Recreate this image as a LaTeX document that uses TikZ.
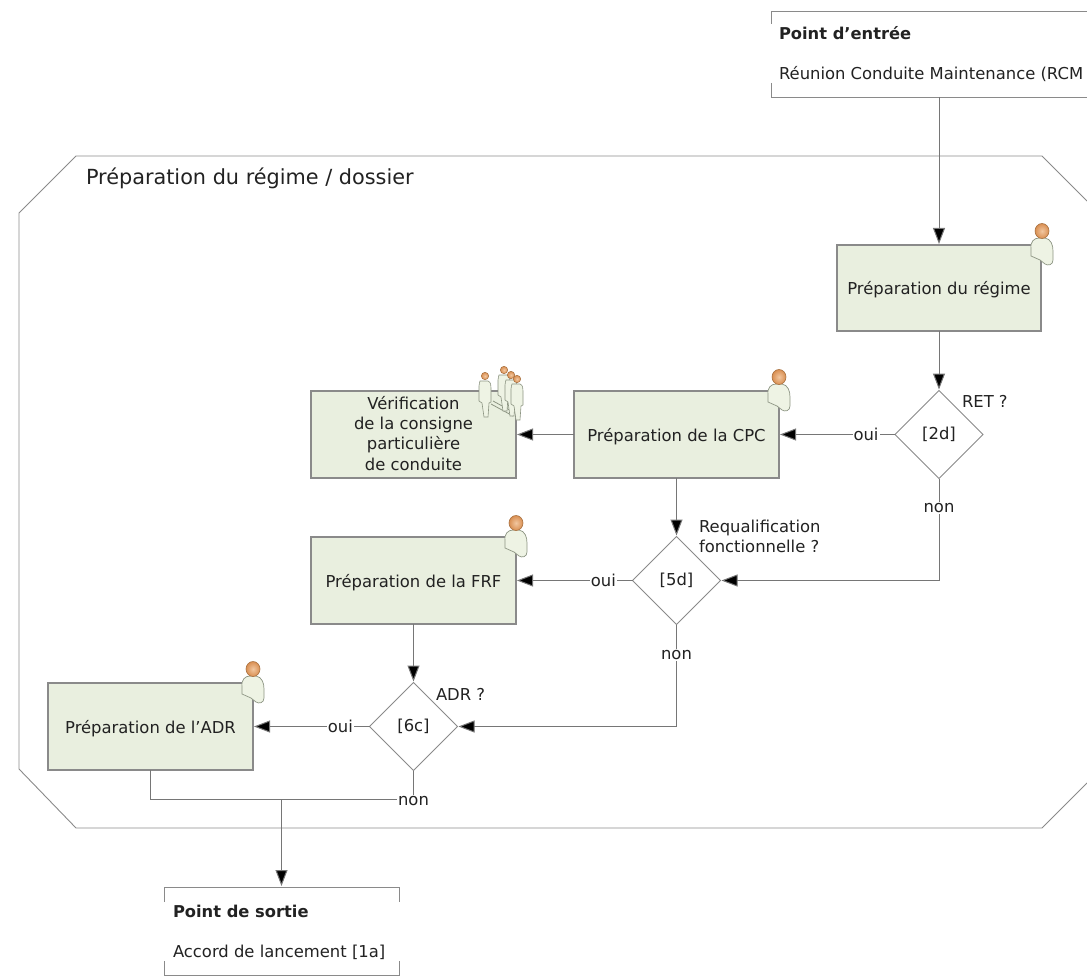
\documentclass[tikz,border=0pt]{standalone}
\usepackage{fontspec}
\setmainfont{DejaVu Sans}
\usetikzlibrary{arrows.meta,shapes.geometric,positioning}
\definecolor{boxfill}{HTML}{E9EFDF}
\definecolor{boxline}{HTML}{8A8A8A}
\definecolor{conn}{HTML}{767676}
\definecolor{ink}{HTML}{222222}
\definecolor{headin}{HTML}{F2C7A0}
\definecolor{headfill}{HTML}{D98F52}
\definecolor{headline}{HTML}{A8703F}
\definecolor{bodyfill}{HTML}{EEF3E4}
\definecolor{bodyline}{HTML}{8C9482}
\tikzset{
  x=1pt,y=-1pt,
  every node/.style={font=\fontsize{16.4}{20}\selectfont,text=ink,inner sep=0pt,outer sep=0pt},
  taskbox/.style={draw=boxline,fill=boxfill,line width=1.1pt,minimum width=205,minimum height=87,align=center,text height=13pt,text depth=0pt},
  decision/.style={diamond,draw=boxline,fill=white,line width=0.9pt,minimum width=88,minimum height=88,aspect=1,yshift=0pt},
  flow/.style={draw=conn,line width=1pt,-{Triangle[length=16,width=12,fill=black]},shorten >=1},
  plainflow/.style={draw=conn,line width=1pt},
  onlabel/.style={fill=white,inner xsep=1pt,inner ysep=1pt},
  frameline/.style={draw=boxline,line width=0.9pt},
  person/.pic={
    \draw[draw=bodyline,fill=bodyfill,line width=.7pt]
      (-11,18) .. controls (-12,11) and (-8,7) .. (-3,7)
      -- (3,7) .. controls (9,8) and (11,14) .. (11,20)
      -- (11,29) .. controls (11,34) and (6,35) .. (3,33)
      -- (-2,29) -- (-11,25) -- cycle;
    \draw[draw=headline,inner color=headin,outer color=headfill,line width=.6pt] (0,0) circle[x radius=7,y radius=7.5];
  },
  smallperson/.pic={
    \draw[draw=bodyline,fill=bodyfill,line width=.6pt]
      (-5,5) -- (3,5) .. controls (6,6) and (6,10) .. (6,12)
      -- (6,26) -- (4,27) -- (3,41) -- (-1,41) -- (-3,27) -- (-6,25) -- (-6,10)
      .. controls (-6,7) and (-5,6) .. (-5,5) -- cycle;
    \draw[draw=headline,inner color=headin,outer color=headfill,line width=.5pt] (0,0) circle[radius=3.7];
  },
}
\begin{document}
\begin{tikzpicture}
\useasboundingbox (0,0) rectangle (1087,976);
% frame
\draw[frameline] (1087,201) -- (1042,156) -- (76,156) -- (19,213) -- (19,769) -- (76,828) -- (1042,828) -- (1087,783);
\node[anchor=west,font=\fontsize{20.8}{24}\selectfont] (frametitle) at (86,178.5) {Préparation du régime / dossier};
% entry
\draw[frameline] (771,24) -- (771,11) -- (1087,11);
\draw[frameline] (771,83) -- (771,97) -- (1087,97);
\coordinate (entrybottom) at (939,97);
\node[anchor=west,font=\fontsize{16.3}{20}\selectfont\bfseries] (entrytitle) at (779,33.5) {Point d’entrée};
\node[anchor=west] (entrytext) at (779,74.5) {Réunion Conduite Maintenance (RCM};
% exit
\draw[frameline] (164,902) -- (164,887) -- (399,887) -- (399,902);
\draw[frameline] (164,961) -- (164,975) -- (399,975) -- (399,961);
\coordinate (exittop) at (281.5,887);
\node[anchor=west,font=\fontsize{16.3}{20}\selectfont\bfseries] (exittitle) at (173,911.5) {Point de sortie};
\node[anchor=west] (exittext) at (173,952.5) {Accord de lancement [1a]};
% tasks
\node[taskbox,minimum width=204,minimum height=86] (regime) at (939,288) {Préparation du régime};
\node[taskbox] (cpc) at (676.5,434.5) {Préparation de la CPC};
\node[taskbox] (verif) at (413.5,434.5) {};
\node[align=center,font=\fontsize{16.4}{20.1}\selectfont] (veriftext) at (413.5,433.5) {Vérification\\de la consigne\\particulière\\de conduite};
\node[taskbox] (frf) at (413.5,580.5) {Préparation de la FRF};
\node[taskbox] (adr) at (150.5,726.5) {Préparation de l’ADR};
% decisions
\node[decision] (d2) at (939,434.5) {[2d]};
\node[decision] (d5) at (676.5,580.5) {[5d]};
\node[decision] (d6) at (413.5,726.5) {[6c]};
% connector waypoints
\coordinate (elbowA) at (939,580.5);
\coordinate (elbowB) at (676.5,726.5);
\coordinate (elbowC) at (413.5,799);
\coordinate (elbowD) at (150.5,799);
\coordinate (junction) at (281.5,799);
% connectors
\draw[flow] (entrybottom) -- (regime.north);
\draw[flow] (regime.south) -- (d2.north);
\draw[flow] (d2.west) -- node[onlabel,pos=.25] (oui1) {oui} (cpc.east);
\draw[flow] (cpc.west) -- (verif.east);
\draw[flow] (cpc.south) -- (d5.north);
\draw[flow] (d2.south) -- (elbowA) -- (d5.east);
\node[onlabel] (non1) at (939,508) {non};
\draw[flow] (d5.west) -- node[onlabel,pos=.25] (oui2) {oui} (frf.east);
\draw[flow] (frf.south) -- (d6.north);
\draw[flow] (d5.south) -- (elbowB) -- (d6.east);
\node[onlabel] (non2) at (676.5,655) {non};
\draw[flow] (d6.west) -- node[onlabel,pos=.25] (oui3) {oui} (adr.east);
\draw[plainflow] (adr.south) -- (elbowD) -- (elbowC) -- (d6.south);
\node[onlabel] (non3) at (413.5,801) {non};
\draw[flow] (junction) -- (exittop);
% free labels
\node[anchor=west] (ret) at (962,401) {RET ?};
\node[anchor=north west,align=left] (requal) at (699,520.5) {Requalification\\fonctionnelle ?};
\node[anchor=west] (adrq) at (436,694) {ADR ?};
% actors
\pic at (1042,231) {person};
\pic at (779,377) {person};
\pic at (516,523) {person};
\pic at (253,669) {person};
\draw[draw=bodyline,line width=.8pt] (491,404) -- (513,416);
\draw[draw=bodyline,line width=.8pt] (493,401) -- (515,413);
\pic at (485,376) {smallperson};
\pic at (504,370) {smallperson};
\pic at (511,375) {smallperson};
\pic at (517,379) {smallperson};
\end{tikzpicture}
\end{document}
